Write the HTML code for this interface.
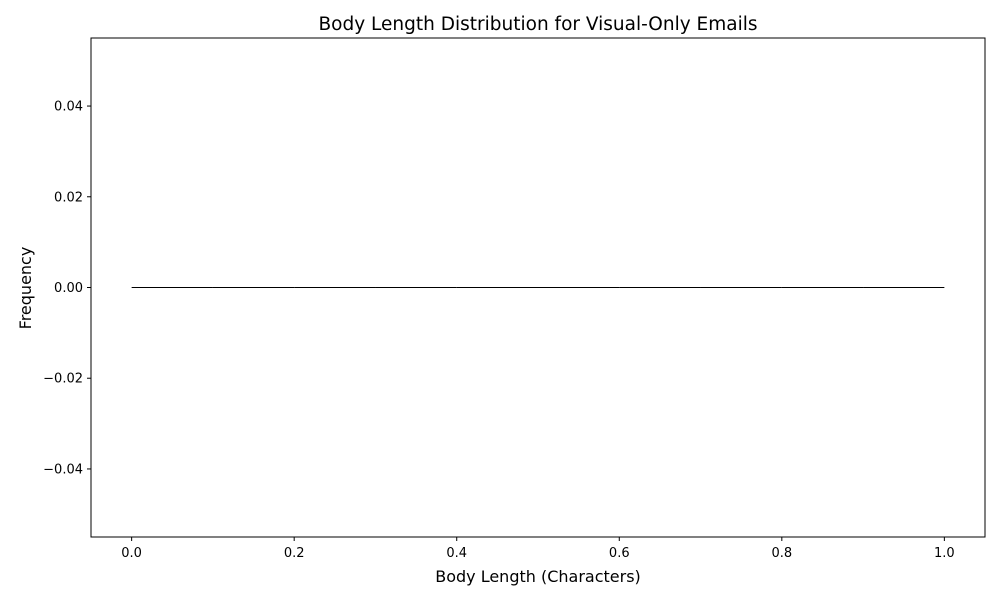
<!DOCTYPE html>
<html>
<head>
<meta charset="utf-8">
<style>
html,body{margin:0;padding:0;background:#fff;}
svg{display:block;font-family:"DejaVu Sans","Liberation Sans",sans-serif;}
</style>
</head>
<body>
<svg id="chart" width="1000" height="600" viewBox="0 0 1000 600">
  <rect x="0" y="0" width="1000" height="600" fill="#fff"/>
  <text x="538" y="30" text-anchor="middle" font-size="18.5">Body Length Distribution for Visual-Only Emails</text>
  <g id="bars"></g>
  <g id="xticks"></g>
  <g id="yticks"></g>
  <rect x="91" y="38" width="894" height="499" fill="none" stroke="#000" stroke-width="1"/>
  <text x="538" y="582" text-anchor="middle" font-size="16">Body Length (Characters)</text>
  <text transform="translate(31,288) rotate(-90)" text-anchor="middle" font-size="16">Frequency</text>
</svg>
<script>
const binEdges = [0,0.1,0.2,0.3,0.4,0.5,0.6,0.7,0.8,0.9,1.0];
const counts = [0,0,0,0,0,0,0,0,0,0];
const xTicks = [0.0,0.2,0.4,0.6,0.8,1.0];
const xTickLabels = ["0.0","0.2","0.4","0.6","0.8","1.0"];
const yTicks = [-0.04,-0.02,0.00,0.02,0.04];
const yTickLabels = ["\u22120.04","\u22120.02","0.00","0.02","0.04"];

const L=91,R=985,T=38,B=537;
const xMin=-0.05,xMax=1.05,yMin=-0.055,yMax=0.055;
const xs=v=>L+(v-xMin)/(xMax-xMin)*(R-L);
const ys=v=>B-(v-yMin)/(yMax-yMin)*(B-T);
const NS="http://www.w3.org/2000/svg";

const bars=document.getElementById('bars');
for(let i=0;i<counts.length;i++){
  const x0=xs(binEdges[i]),x1=xs(binEdges[i+1]),y0=ys(0),y1=ys(counts[i]);
  const p=document.createElementNS(NS,'path');
  p.setAttribute('d',`M${x0},${y0}L${x0},${y1}L${x1},${y1}L${x1},${y0}Z`);
  p.setAttribute('fill','#1f77b4');
  p.setAttribute('stroke','#000');
  p.setAttribute('stroke-width','1');
  
  
  bars.appendChild(p);
}

const xg=document.getElementById('xticks');
xTicks.forEach((v,i)=>{
  const x=xs(v);
  const l=document.createElementNS(NS,'line');
  l.setAttribute('x1',x);l.setAttribute('x2',x);l.setAttribute('y1',B);l.setAttribute('y2',B+4);
  l.setAttribute('stroke','#000');
  
  
  xg.appendChild(l);
  const t=document.createElementNS(NS,'text');
  t.setAttribute('x',x);t.setAttribute('y',B+20);t.setAttribute('text-anchor','middle');t.setAttribute('font-size','13');
  t.textContent=xTickLabels[i];
  
  
  xg.appendChild(t);
});

const yg=document.getElementById('yticks');
yTicks.forEach((v,i)=>{
  const y=ys(v);
  const l=document.createElementNS(NS,'line');
  l.setAttribute('x1',L-4);l.setAttribute('x2',L);l.setAttribute('y1',y);l.setAttribute('y2',y);
  l.setAttribute('stroke','#000');
  
  
  yg.appendChild(l);
  const t=document.createElementNS(NS,'text');
  t.setAttribute('x',L-8);t.setAttribute('y',y+4.5);t.setAttribute('text-anchor','end');t.setAttribute('font-size','13');
  t.textContent=yTickLabels[i];
  
  
  yg.appendChild(t);
});
</script>
</body>
</html>
